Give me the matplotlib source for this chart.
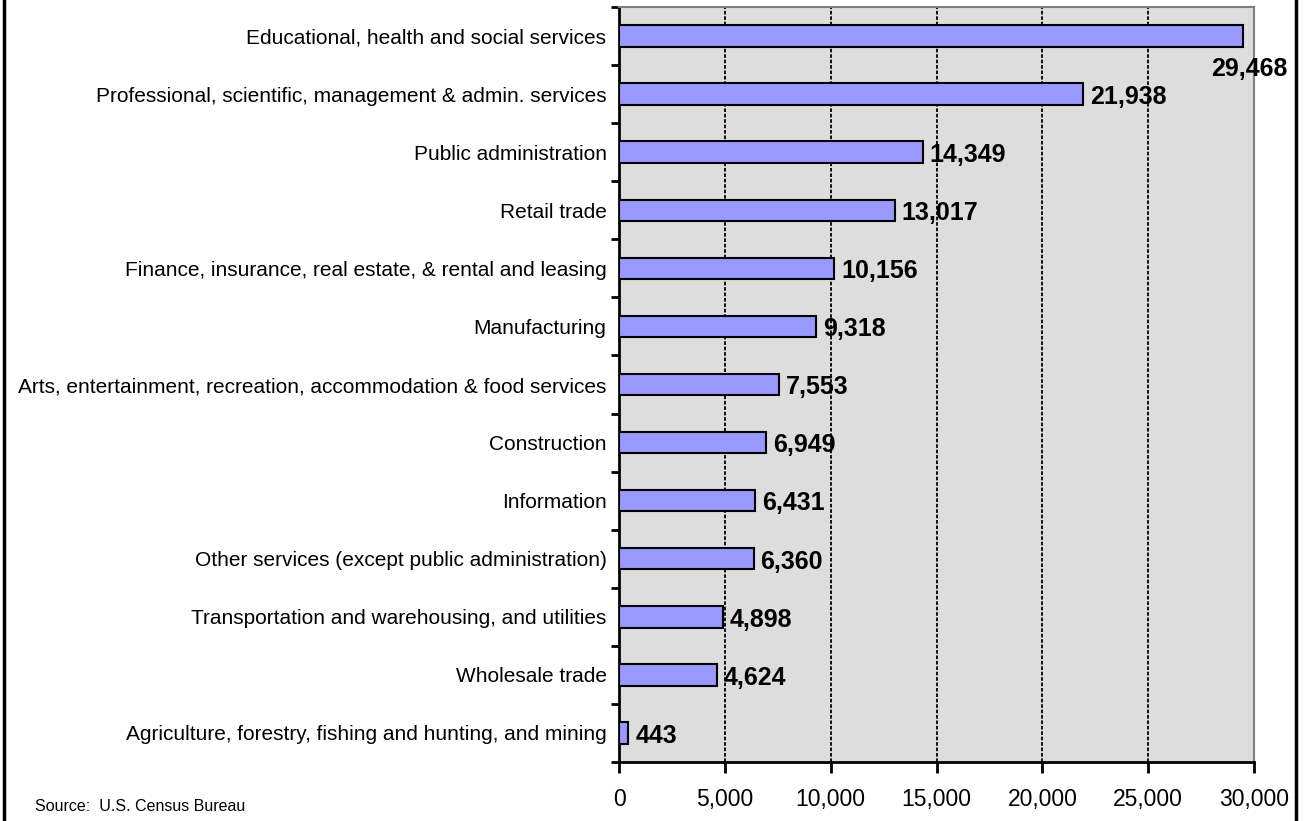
import matplotlib
matplotlib.use("Agg")
import matplotlib.pyplot as plt
from matplotlib.lines import Line2D
from matplotlib.ticker import FuncFormatter

plt.rcParams['font.family'] = ['Liberation Sans', 'DejaVu Sans']

industries = [
    "Educational, health and social services",
    "Professional, scientific, management & admin. services",
    "Public administration",
    "Retail trade",
    "Finance, insurance, real estate, & rental and leasing",
    "Manufacturing",
    "Arts, entertainment, recreation, accommodation & food services",
    "Construction",
    "Information",
    "Other services (except public administration)",
    "Transportation and warehousing, and utilities",
    "Wholesale trade",
    "Agriculture, forestry, fishing and hunting, and mining",
]
workers = [29468, 21938, 14349, 13017, 10156, 9318, 7553, 6949, 6431, 6360, 4898, 4624, 443]
x_ticks = [0, 5000, 10000, 15000, 20000, 25000, 30000]

fig = plt.figure(figsize=(13.04, 8.21), dpi=100)
ax = fig.add_axes([619 / 1304, 1 - 762 / 821, 635 / 1304, 755 / 821])
ax.set_facecolor('#dddddd')

n = len(industries)
pos = list(range(n - 1, -1, -1))
ax.barh(pos, workers, height=0.37, color='#9999ff', edgecolor='black', linewidth=1.5, zorder=3)

for p, v in zip(pos, workers):
    if v == max(workers):
        # biggest bar: label dropped below the bar end
        ax.annotate(f"{v:,}", (v, p), xytext=(5, -24), textcoords='offset points',
                    ha='center', va='center', fontsize=18, fontweight='bold',
                    annotation_clip=False, zorder=4)
    else:
        ax.annotate(f"{v:,}", (v, p), xytext=(5, -2), textcoords='offset points',
                    ha='left', va='center', fontsize=18, fontweight='bold', zorder=4)

ax.set_xlim(0, 30000)
ax.set_ylim(-0.5, n - 0.5)
ax.set_xticks(x_ticks)
ax.xaxis.set_major_formatter(FuncFormatter(lambda v, _: f"{int(v):,}"))
ax.tick_params(axis='x', direction='out', length=8, width=2, pad=11, labelsize=16.5)

# category ticks between bars, labels centred on the bars
ax.set_yticks([i - 0.5 for i in range(n + 1)])
ax.set_yticklabels([])
ax.set_yticks(pos, minor=True)
ax.set_yticklabels(industries, minor=True)
ax.tick_params(axis='y', which='major', direction='out', length=6, width=2)
ax.tick_params(axis='y', which='minor', length=0, pad=9, labelsize=15)

ax.grid(axis='x', color='black', linestyle=(0, (2, 1)), linewidth=1.3, zorder=1)
for s in ['top', 'right']:
    ax.spines[s].set_color('#808080')
    ax.spines[s].set_linewidth(1.5)
for s in ['left', 'bottom']:
    ax.spines[s].set_linewidth(2)

fig.text(35 / 1304, 1 - 806 / 821, "Source:  U.S. Census Bureau", fontsize=11.5, va='center')

# frame around the whole chart
fig.add_artist(Line2D([4 / 1304, 4 / 1304], [0, 1], color='black', linewidth=2.5))
fig.add_artist(Line2D([1296 / 1304, 1296 / 1304], [0, 1], color='black', linewidth=2.5))

fig.savefig("out.png", dpi=100)
